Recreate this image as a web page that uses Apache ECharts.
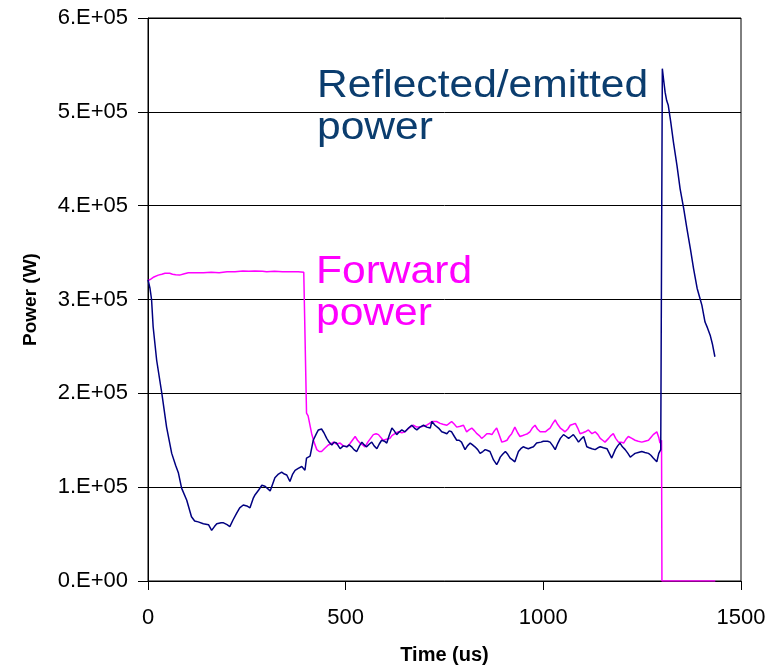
<!DOCTYPE html>
<html>
<head>
<meta charset="utf-8">
<script src="https://cdn.jsdelivr.net/npm/echarts@6/dist/echarts.min.js"></script>
<style>
  html, body { margin: 0; padding: 0; background: #fff; }
  #chart { width: 770px; height: 670px; }
</style>
</head>
<body>
<div id="chart"></div>
<script>
// Time axis ticks (us) and power axis ticks (W)
const timeTicks = [0, 500, 1000, 1500];
const powerTicks = [0, 100000, 200000, 300000, 400000, 500000, 600000];

// Forward power trace: [time (us), power (W)]
const forwardPower = [
  [0,320000],[8,322000],[15,324000],[26,326000],[35,327000],[43,328000],[55,328000],[62,327000],
  [70,326500],[80,326000],[85,325500],[92,327500],[102,328500],[120,328500],[140,328500],[160,329000],
  [180,328500],[200,329500],[220,329500],[240,330500],[255,330000],[270,330500],[290,330000],[300,329500],
  [320,330000],[340,329500],[360,329500],[380,329500],[394,329000],[401,179000],[405,176000],[410,175000],
  [414,157000],[420,148000],[427,140000],[433,138000],[439,138000],[446,141000],[456,145000],[462,146000],
  [469,148000],[477,146000],[486,147000],[494,144000],[503,143000],[510,146000],[517,150000],[524,154000],
  [530,150000],[536,147000],[543,145000],[549,143000],[556,148000],[563,152000],[570,156000],[577,157000],
  [583,156000],[589,153000],[595,150000],[603,151000],[612,152000],[617,155000],[621,157000],[628,158000],
  [634,159000],[642,158000],[650,159000],[654,161000],[660,163000],[665,164000],[671,166000],[680,164000],
  [688,164000],[695,165000],[705,166000],[712,168000],[718,170000],[722,171600],[730,170000],[739,168000],
  [746,167000],[756,166000],[762,168000],[768,170000],[775,167000],[781,164000],[790,165000],[798,166000],
  [806,159000],[812,161000],[819,163000],[826,160000],[832,157000],[838,155000],[844,152000],[850,154000],
  [857,157000],[864,157000],[870,156000],[876,160000],[882,163000],[889,155000],[895,148000],[902,149000],
  [908,150000],[914,154000],[920,157000],[928,164000],[935,158000],[941,154000],[948,155000],[954,156000],
  [960,157000],[966,159000],[972,163000],[979,166000],[985,162000],[992,159000],[998,159000],[1005,159000],
  [1011,161000],[1017,163000],[1024,168000],[1030,171600],[1036,167000],[1043,163000],[1049,161000],[1055,159000],
  [1062,162000],[1068,166000],[1075,167000],[1081,168000],[1087,163000],[1093,157000],[1100,158000],[1106,159000],
  [1114,161000],[1123,157000],[1131,159000],[1138,156000],[1144,152000],[1150,150000],[1156,148000],[1165,152000],
  [1171,155000],[1177,157000],[1183,152000],[1190,148000],[1197,148000],[1203,147000],[1209,151000],[1215,154000],
  [1224,152000],[1232,150000],[1240,149000],[1249,148000],[1257,149000],[1266,150000],[1272,153000],[1278,156000],
  [1287,159000],[1292,153000],[1295,147000],[1299,150000],[1300,0],[1435,0]
];

// Reflected / emitted power trace: [time (us), power (W)]
const reflectedPower = [
  [0,321000],[5,312000],[9,300000],[13,271000],[22,235000],[35,200000],[47,164000],[60,136000],
  [70,123000],[77,115000],[85,99000],[98,86000],[110,68500],[118,64000],[127,63000],[140,61000],
  [153,60000],[161,54000],[168,58000],[174,61000],[185,62000],[191,62000],[200,60000],[207,58000],
  [215,65000],[224,72000],[232,78000],[241,81000],[250,80000],[258,78000],[266,88000],[271,92000],
  [280,97000],[288,102000],[296,101000],[300,102000],[309,96000],[313,97000],[321,110000],[330,114000],
  [338,116000],[345,114000],[351,113000],[359,106000],[366,114000],[372,118000],[380,120000],[385,120000],
  [389,122000],[397,118000],[401,131000],[410,133000],[418,150000],[426,157000],[431,161000],[439,162000],
  [445,158000],[452,152000],[458,148000],[465,145000],[471,148000],[477,147000],[486,141000],[494,144000],
  [503,143000],[509,145000],[515,143000],[521,140000],[528,138000],[535,144000],[541,148000],[547,145000],
  [553,143000],[560,146000],[566,148000],[572,144000],[579,141000],[585,146000],[591,150000],[598,149000],
  [604,147000],[610,155000],[617,163000],[623,160000],[629,156000],[636,159000],[642,161000],[650,159000],
  [659,163000],[667,166000],[674,163000],[680,161000],[688,164000],[697,166000],[705,164000],[714,163000],
  [718,170000],[726,166000],[735,163000],[743,159000],[750,158000],[756,157000],[762,160000],[768,159000],
  [775,154000],[781,150000],[787,150000],[793,148000],[802,140000],[808,144000],[815,147000],[821,145000],
  [827,143000],[834,140000],[840,136000],[847,138000],[853,140000],[859,139000],[865,138000],[874,129000],
  [882,124000],[887,128000],[891,132000],[897,135000],[904,138000],[910,135000],[916,131000],[922,129000],
  [928,127000],[937,138000],[943,141000],[949,143000],[955,142000],[962,141000],[968,142000],[975,143000],
  [983,147000],[988,147000],[994,148000],[1000,149000],[1005,150000],[1011,149000],[1017,148000],[1024,144000],
  [1030,140000],[1037,147000],[1043,152000],[1051,156000],[1058,154000],[1064,152000],[1070,154000],[1076,156000],
  [1083,152000],[1089,148000],[1095,151000],[1102,154000],[1110,143000],[1116,142000],[1123,141000],[1131,140000],
  [1138,142000],[1144,143000],[1152,142000],[1161,141000],[1167,136000],[1173,131000],[1182,140000],[1188,144000],
  [1194,147000],[1200,143000],[1207,140000],[1214,136000],[1220,132000],[1226,134000],[1232,136000],[1240,137000],
  [1249,138000],[1257,137000],[1266,136000],[1272,134000],[1278,131000],[1283,129000],[1287,127000],[1292,136000],
  [1297,140000],[1301,546000],[1304,535000],[1308,521000],[1312,512000],[1316,507000],[1322,490000],[1329,468000],
  [1338,443000],[1346,418000],[1355,397000],[1363,376000],[1372,354000],[1380,333000],[1389,312000],[1395,303000],
  [1401,294000],[1409,276000],[1415,270000],[1422,262000],[1428,252000],[1434,239000]
];

const FONT = '"Liberation Sans", Arial, sans-serif';

function powerLabel(v) {
  if (v === 0) return '0.E+00';
  return (v / 100000).toFixed(0) + '.E+05';
}

const chart = echarts.init(document.getElementById('chart'), null, { renderer: 'canvas' });

chart.setOption({
  animation: false,
  backgroundColor: '#ffffff',
  grid: {
    left: 148, top: 18, right: 29, bottom: 89,
    show: true, borderColor: '#000', borderWidth: 1, backgroundColor: 'transparent'
  },
  xAxis: {
    type: 'value',
    min: timeTicks[0],
    max: timeTicks[timeTicks.length - 1],
    interval: timeTicks[1] - timeTicks[0],
    name: 'Time (us)',
    nameLocation: 'middle',
    nameGap: 64,
    nameTextStyle: { fontFamily: FONT, fontSize: 20, fontWeight: 'bold', color: '#000' },
    axisLine: { show: true, onZero: false, lineStyle: { color: '#000', width: 1 } },
    axisTick: { show: true, inside: false, length: 9, lineStyle: { color: '#000' } },
    axisLabel: { fontFamily: FONT, fontSize: 22, color: '#000', margin: 26, formatter: (v) => String(v) },
    splitLine: { show: false }
  },
  yAxis: {
    type: 'value',
    min: powerTicks[0],
    max: powerTicks[powerTicks.length - 1],
    interval: powerTicks[1] - powerTicks[0],
    name: 'Power (W)',
    nameLocation: 'middle',
    nameGap: 108,
    nameRotate: 90,
    nameTextStyle: { fontFamily: FONT, fontSize: 19, fontWeight: 'bold', color: '#000' },
    axisLine: { show: true, lineStyle: { color: '#000', width: 1 } },
    axisTick: { show: true, inside: false, length: 10, lineStyle: { color: '#000' } },
    axisLabel: { fontFamily: FONT, fontSize: 22, color: '#000', margin: 20, formatter: powerLabel },
    splitLine: { show: true, lineStyle: { color: '#000', width: 1 } }
  },
  graphic: [
    {
      type: 'text', left: 317, top: 66,
      style: {
        text: 'Reflected/emitted\npower',
        font: '38px ' + FONT,
        lineHeight: 42,
        fill: '#0b3d6e'
      },
      scaleX: 1.12
    },
    {
      type: 'text', left: 316, top: 252,
      style: {
        text: 'Forward\npower',
        font: '38px ' + FONT,
        lineHeight: 42,
        fill: '#ff00ff'
      },
      scaleX: 1.12
    }
  ],
  series: [
    {
      name: 'Forward power',
      type: 'line',
      data: forwardPower,
      showSymbol: false,
      lineStyle: { color: '#ff00ff', width: 1.5 },
      itemStyle: { color: '#ff00ff' },
      z: 2
    },
    {
      name: 'Reflected/emitted power',
      type: 'line',
      data: reflectedPower,
      showSymbol: false,
      lineStyle: { color: '#000080', width: 1.5 },
      itemStyle: { color: '#000080' },
      z: 3
    }
  ]
});
</script>
</body>
</html>
